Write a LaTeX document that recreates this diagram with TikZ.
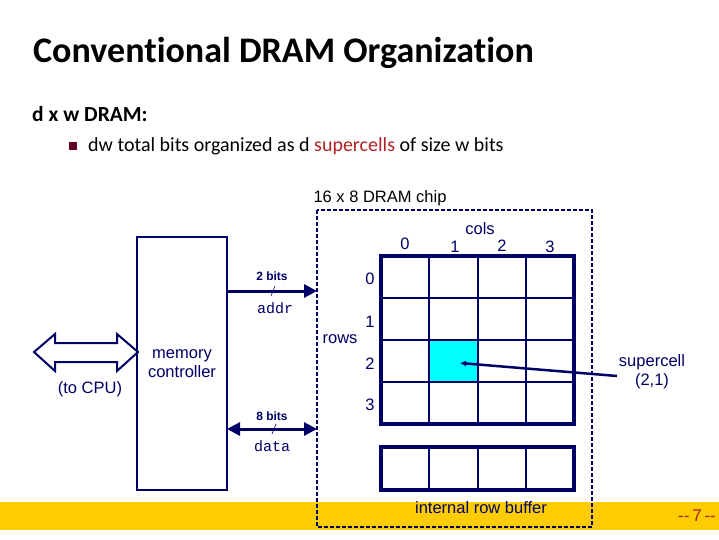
\documentclass[tikz,border=0pt]{standalone}
\usepackage{fontspec}
\setmainfont{Carlito}[Ligatures=NoCommon]
\newfontfamily\arialfont{Liberation Sans}
\newfontfamily\courfont{Liberation Mono}
\usetikzlibrary{arrows.meta}

\definecolor{navy}{RGB}{0,0,102}
\definecolor{barYellow}{RGB}{255,204,0}
\definecolor{keyRed}{RGB}{178,34,34}
\definecolor{bulletRed}{RGB}{100,0,40}
\definecolor{cellCyan}{RGB}{0,255,255}

\tikzset{
  lbl/.style={font=\arialfont\fontsize{16.5}{19}\selectfont, text=navy, inner sep=0pt},
  bitlbl/.style={font=\arialfont\bfseries\fontsize{12}{14}\selectfont, text=navy, inner sep=0pt},
  buslbl/.style={font=\courfont\fontsize{15}{17}\selectfont, text=navy, inner sep=0pt},
  bus/.style={navy, line width=3pt},
  bustip/.tip={Triangle[length=13pt,width=13pt]},
  thin grid/.style={navy, line width=2pt},
}

\begin{document}
\begin{tikzpicture}[x=1pt,y=-1pt]
\useasboundingbox (0,0) rectangle (719,539);

%Slide text
\node [anchor=base west, inner sep=0pt, font=\bfseries\fontsize{36}{42}\selectfont] (title) at (33,62) {Conventional DRAM Organization};
\node [anchor=west, inner sep=0pt, font=\bfseries\fontsize{21.5}{26}\selectfont] (dw) at (32,114) {d x w DRAM:};
\fill [bulletRed] (69,142) rectangle (77,150);
\node [anchor=west, inner sep=0pt, font=\fontsize{20}{24}\selectfont] (bullet) at (88,146) {dw total bits organized as d \textcolor{keyRed}{supercells} of size w bits};

%Bottom bar
\fill [barYellow] (0,502) rectangle (719,530);
\node [font=\arialfont\fontsize{17}{19}\selectfont, text=keyRed, inner sep=0pt] (page) at (697,516) {--\,7\,--};

%Chip
\draw [navy, line width=1.5pt, dash pattern=on 4pt off 2pt] (317,210) rectangle (592,527);
\node [lbl, text=black] (chiplbl) at (380,198) {16 x 8 DRAM chip};

\fill [cellCyan] (429,340) rectangle (478,382);
\draw [thin grid] (429,256)--(429,424);
\draw [thin grid] (478,256)--(478,424);
\draw [thin grid] (526,256)--(526,424);
\draw [thin grid] (381,298)--(574,298);
\draw [thin grid] (381,340)--(574,340);
\draw [thin grid] (381,382)--(574,382);
\draw [navy, line width=4pt] (381,256) rectangle (574,424);

\draw [thin grid] (429,447)--(429,490);
\draw [thin grid] (478,447)--(478,490);
\draw [thin grid] (526,447)--(526,490);
\draw [navy, line width=4pt] (381,447) rectangle (574,490);
\node [lbl] (buflbl) at (481,508) {internal row buffer};

\node [lbl] (colslbl) at (480,229) {cols};
\node [lbl] (c0) at (405,244) {0};
\node [lbl] (c1) at (455,247) {1};
\node [lbl] (c2) at (502,246) {2};
\node [lbl] (c3) at (550,247) {3};
\node [lbl] (r0) at (370,279) {0};
\node [lbl] (r1) at (370,322) {1};
\node [lbl] (rowslbl) at (340,339) {rows};
\node [lbl] (r2) at (370,364) {2};
\node [lbl] (r3) at (370,405) {3};

%Supercell
\coordinate (cell) at (460,363);
\node [lbl, align=center] (sclbl) at (652,372) {supercell\\(2,1)};
\coordinate (scfoot) at (617,376);
\draw [navy, line width=2.5pt, -{Latex[length=6pt,width=6pt]}] (scfoot)--(cell);

%Memory controller
\draw [navy, line width=2pt, fill=white] (137,237) rectangle (227,490);
\node [lbl, align=center] (mclbl) at (182,364) {memory\\controller};

%To CPU
\draw [navy, line width=2pt, fill=white, line join=miter] (34,352)--(55,334)--(55,343)--(117,343)--(117,334)--(138,352)--(117,371)--(117,362)--(55,362)--(55,371)--cycle;
\node [lbl] (cpulbl) at (90,389) {(to CPU)};

%Addr and data buses
\coordinate (addrL) at (227,291); \coordinate (addrR) at (317,291);
\coordinate (dataL) at (227,429); \coordinate (dataR) at (317,429);
\draw [bus, -bustip] (addrL)--(addrR);
\draw [bus, bustip-bustip] (dataL)--(dataR);
\draw [navy, line width=0.6pt] (271,296)--(275,286);
\draw [navy, line width=0.6pt] (272,434)--(276,424);
\node [bitlbl] (addrbits) at (272,276) {2 bits};
\node [buslbl] (addrlbl) at (275,308) {addr};
\node [bitlbl] (databits) at (272,416) {8 bits};
\node [buslbl] (datalbl) at (272,446) {data};

\end{tikzpicture}
\end{document}
